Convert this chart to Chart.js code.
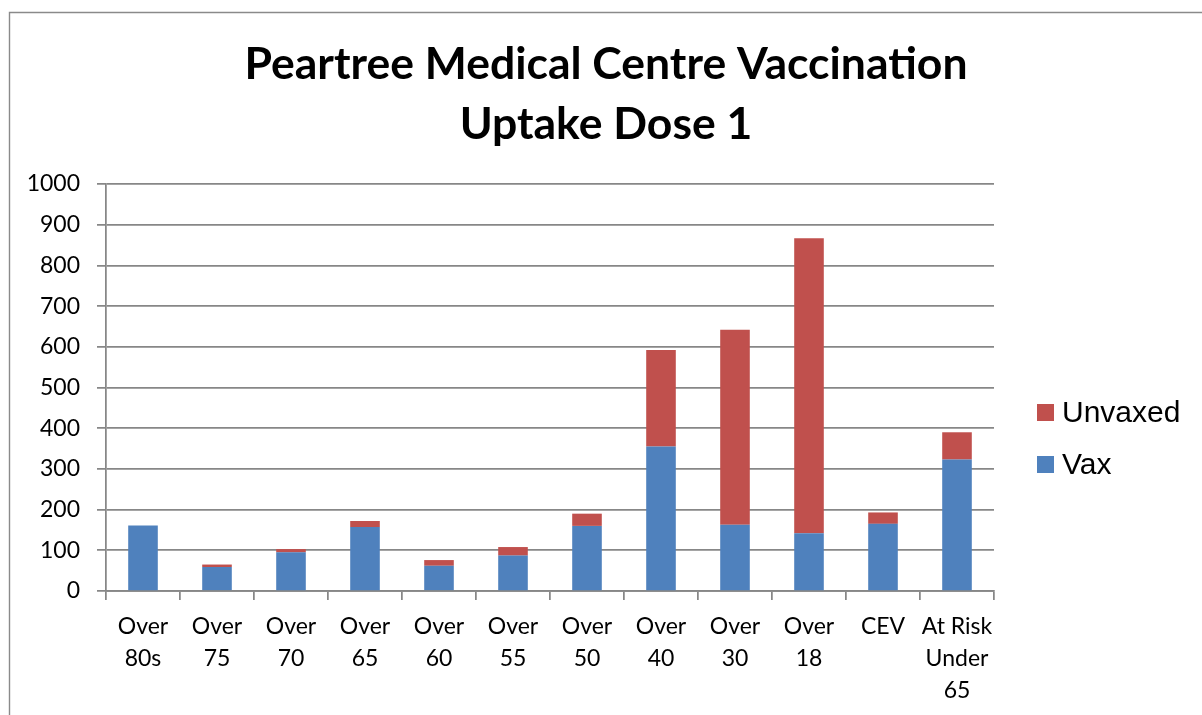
<!DOCTYPE html>
<html>
<head>
<meta charset="utf-8">
<script src="https://cdn.jsdelivr.net/npm/chart.js@4.4.0/dist/chart.umd.min.js"></script>
<style>
  html, body { margin: 0; padding: 0; background: #ffffff; }
  #wrap { width: 1202px; height: 715px; position: relative; }
</style>
</head>
<body>
<div id="wrap"><canvas id="c" width="1202" height="715"></canvas></div>
<script>
const titleLines = ['Peartree Medical Centre Vaccination', 'Uptake Dose 1'];
const categories = [
  ['Over', '80s'], ['Over', '75'], ['Over', '70'], ['Over', '65'],
  ['Over', '60'], ['Over', '55'], ['Over', '50'], ['Over', '40'],
  ['Over', '30'], ['Over', '18'], ['CEV'], ['At Risk', 'Under', '65']
];
const seriesNames = ['Vax', 'Unvaxed'];
const vax     = [161, 59, 95, 157, 62, 87, 160, 355, 163, 142, 165, 323];
const unvaxed = [0, 6, 8, 15, 14, 21, 30, 237, 479, 725, 28, 67];
const yTicks = { min: 0, max: 1000, step: 100 };

const COLORS = { vax: '#4F81BD', unvaxed: '#C0504D', grid: '#878787' };
const FONT = 'Lato, "Open Sans", sans-serif';

const frame = {
  id: 'frame',
  beforeDraw(chart) {
    const ctx = chart.ctx;
    ctx.save();
    ctx.fillStyle = '#ffffff';
    ctx.fillRect(0, 0, chart.width, chart.height);
    ctx.strokeStyle = '#8a8a8a';
    ctx.lineWidth = 1.4;
    ctx.beginPath();
    ctx.moveTo(9.5, chart.height);
    ctx.lineTo(9.5, 12.5);
    ctx.lineTo(chart.width, 12.5);
    ctx.stroke();
    ctx.restore();
  }
};

const sideLegend = {
  id: 'sideLegend',
  afterDraw(chart) {
    const ctx = chart.ctx;
    const ds = chart.data.datasets.slice().reverse();
    const x = chart.chartArea.right + 43;
    const y0 = 412.5;
    const gap = 52;
    ctx.save();
    ctx.font = '30px "Liberation Sans", Arial, sans-serif';
    ctx.textBaseline = 'middle';
    ctx.textAlign = 'left';
    ds.forEach((d, i) => {
      const cy = y0 + i * gap;
      ctx.fillStyle = d.backgroundColor;
      ctx.fillRect(x, cy - 8.5, 17, 17);
      ctx.fillStyle = '#000';
      ctx.fillText(d.label, x + 25, cy + 1);
    });
    ctx.restore();
  }
};

new Chart(document.getElementById('c'), {
  type: 'bar',
  data: {
    labels: categories,
    datasets: [
      { label: seriesNames[0], data: vax, backgroundColor: COLORS.vax,
        categoryPercentage: 1, barPercentage: 0.4 },
      { label: seriesNames[1], data: unvaxed, backgroundColor: COLORS.unvaxed,
        categoryPercentage: 1, barPercentage: 0.4 }
    ]
  },
  plugins: [frame, sideLegend],
  options: {
    responsive: false,
    animation: false,
    layout: { padding: { left: 10, right: 0, top: 0, bottom: 0 } },
    plugins: {
      legend: { display: false },
      tooltip: { enabled: false },
      title: {
        display: true,
        text: titleLines,
        color: '#000',
        font: { family: FONT, size: 44.5, weight: 'bold', lineHeight: 60 / 44.5 },
        padding: { top: 35, bottom: 29 }
      }
    },
    scales: {
      x: {
        stacked: true,
        afterFit(scale) { scale.height = 124; },
        grid: { display: true, drawOnChartArea: false, offset: true,
                tickLength: 9, color: COLORS.grid, lineWidth: 1.75 },
        border: { display: true, color: COLORS.grid, width: 1.75 },
        ticks: { color: '#000', padding: 11, maxRotation: 0, autoSkip: false,
                 font: { family: FONT, size: 23, lineHeight: 32 / 23 } }
      },
      y: {
        stacked: true,
        min: yTicks.min, max: yTicks.max,
        afterFit(scale) { scale.width = 96; },
        grid: { color: COLORS.grid, lineWidth: 1.75, tickLength: 9 },
        border: { display: true, color: COLORS.grid, width: 1.75 },
        ticks: { stepSize: yTicks.step, color: '#000', padding: 17,
                 callback: (v) => String(v),
                 font: { family: FONT, size: 23 } }
      },
      legendSpace: {
        type: 'linear',
        position: 'right',
        display: true,
        min: 0, max: 1,
        afterFit(scale) { scale.width = 208; },
        grid: { display: false },
        border: { display: false },
        ticks: { display: false }
      }
    }
  }
});
</script>
</body>
</html>
